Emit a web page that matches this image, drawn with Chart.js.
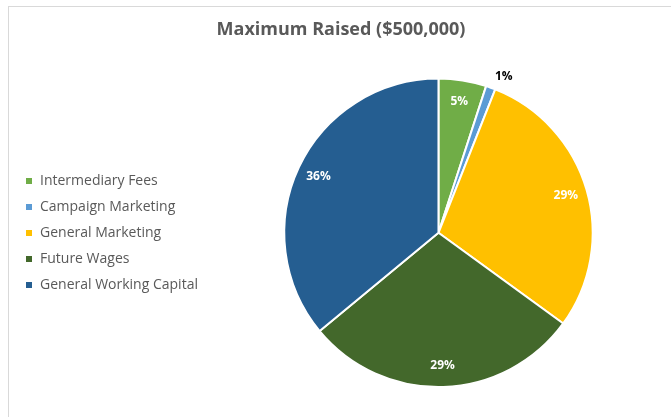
<!DOCTYPE html>
<html lang="en">
<head>
    <meta charset="UTF-8">
    <title>Maximum Raised</title>
    <script src="https://cdn.jsdelivr.net/npm/chart.js"></script>
    <style>
        body { margin: 0; background: #fff; overflow: hidden; }
        #wrap { position: absolute; left: 0; top: 0; width: 671px; height: 417px; }
        #frame { position: absolute; left: 8px; top: 6px; width: 700px; height: 500px; border: 1px solid #d9d9d9; pointer-events: none; }
    </style>
</head>
<body>
    <div id="frame"></div>
    <div id="wrap"><canvas id="pieChart" width="671" height="417"></canvas></div>

    <script>
        const categories = ['Intermediary Fees', 'Campaign Marketing', 'General Marketing', 'Future Wages', 'General Working Capital'];
        const shares = [5, 1, 29, 29, 36];
        const sliceColors = ['#70AD47', '#5B9BD5', '#FFC000', '#43682B', '#255E91'];

        // percentage labels, drawn from each arc's own angles
        const sliceLabels = {
            id: 'sliceLabels',
            afterDatasetsDraw(chart) {
                let ctx = chart.ctx;
                let meta = chart.getDatasetMeta(0);
                ctx.save();
                ctx.font = 'bold 12px "Open Sans", sans-serif';
                ctx.textAlign = 'center';
                ctx.textBaseline = 'middle';
                meta.data.forEach((arc, i) => {
                    let p = arc.getProps(['x', 'y', 'startAngle', 'endAngle', 'outerRadius']);
                    let mid = (p.startAngle + p.endAngle) / 2;
                    let small = shares[i] < 3;
                    let r = small ? p.outerRadius * 1.1 : p.outerRadius * 0.86;
                    if (small) mid += 0.05;
                    ctx.fillStyle = small ? '#000000' : '#ffffff';
                    ctx.fillText(shares[i] + '%', p.x + Math.cos(mid) * r, p.y + Math.sin(mid) * r);
                });
                ctx.restore();
            }
        };

        new Chart(document.getElementById('pieChart'), {
            type: 'pie',
            data: {
                labels: categories,
                datasets: [{
                    data: shares,
                    backgroundColor: sliceColors,
                    borderColor: '#ffffff',
                    borderWidth: 2
                }]
            },
            options: {
                responsive: false,
                animation: false,
                layout: { padding: { left: 13, right: 2, top: 0, bottom: 29 } },
                plugins: {
                    title: {
                        display: true,
                        text: 'Maximum Raised ($500,000)',
                        color: '#595959',
                        font: { family: '"Open Sans", sans-serif', size: 18, weight: 'bold' },
                        padding: { top: 19, bottom: 37 }
                    },
                    legend: {
                        position: 'left',
                        // empty title only pushes the entries down to the pie's middle
                        title: { display: true, text: '', font: { size: 15 }, padding: { top: 60, bottom: 0 } },
                        labels: {
                            color: '#595959',
                            font: { family: '"Open Sans", sans-serif', size: 14 },
                            boxWidth: 8,
                            boxHeight: 8,
                            padding: 12
                        }
                    },
                    tooltip: { enabled: false }
                }
            },
            plugins: [sliceLabels]
        });
    </script>
</body>
</html>
